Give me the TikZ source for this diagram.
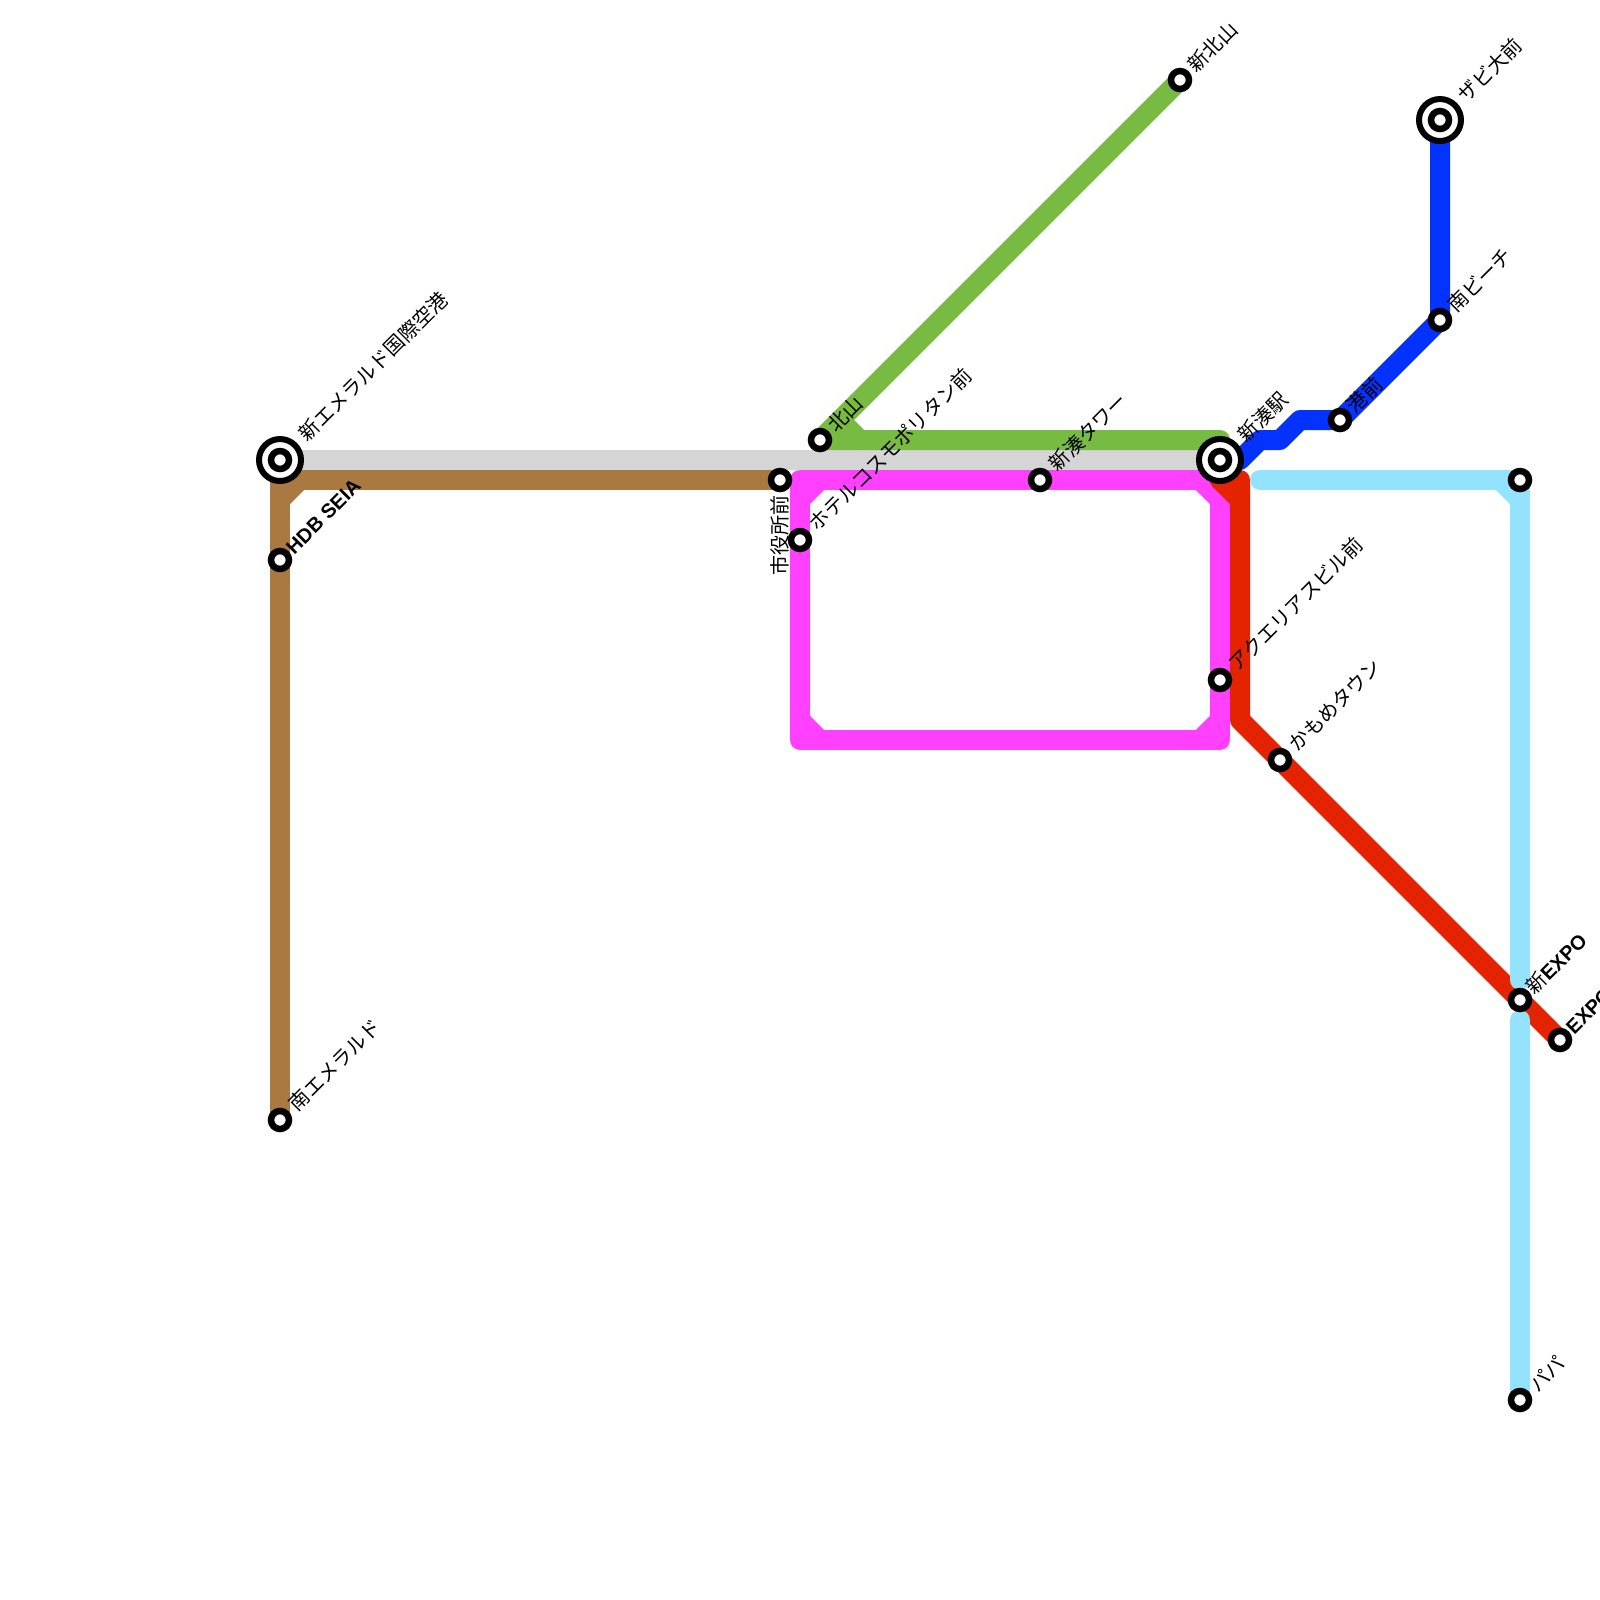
\documentclass[tikz,border=0pt]{standalone}
\usepackage{fontspec}
\usetikzlibrary{backgrounds}
\setmainfont{Noto Sans CJK JP}
\newfontfamily\latinbold[BoldFont=Liberation Sans Bold]{Liberation Sans}

\definecolor{airportgray}{HTML}{D5D5D5}
\definecolor{emeraldbrown}{HTML}{AA7942}
\definecolor{northgreen}{HTML}{78BB42}
\definecolor{loopmagenta}{HTML}{FF40FF}
\definecolor{expored}{HTML}{E42300}
\definecolor{beachblue}{HTML}{0433FF}
\definecolor{papasky}{HTML}{93E3FF}

\tikzset{
  metro/.style={line width=2mm,line join=round,line cap=round},
  stn/.style={circle,draw=black,fill=white,line width=0.065cm,minimum size=0.18cm,inner sep=0pt,outer sep=0pt},
  hub/.style={circle,draw=black,fill=white,line width=0.06cm,minimum size=0.42cm,inner sep=0pt,outer sep=0pt,label={[stn]center:{}}},
  lbl/.style={rotate=45,anchor=west,inner sep=0pt,font=\fontsize{5.7}{6}\selectfont},
  lblup/.style={rotate=90,anchor=east,inner sep=0pt,font=\fontsize{5.7}{6}\selectfont},
  bold/.style={lbl,font=\fontsize{5.7}{6}\selectfont\latinbold\bfseries}
}

\begin{document}
\begin{tikzpicture}[x=0.2cm,y=-0.2cm]
\useasboundingbox (0,0) rectangle (80,80);

% Stations
\node[hub] (airport) at (14,23) {};
\node[stn] (seia) at (14,28) {};
\node[stn] (southem) at (14,56) {};
\node[stn] (cityhall) at (39,24) {};
\node[stn] (hotel) at (40,27) {};
\node[stn] (kitayama) at (41,22) {};
\node[stn] (newkita) at (59,4) {};
\node[stn] (tower) at (52,24) {};
\node[hub] (minato) at (61,23) {};
\node[stn] (aqua) at (61,34) {};
\node[stn] (kamome) at (64,38) {};
\node[stn] (port) at (67,21) {};
\node[stn] (beach) at (72,16) {};
\node[hub] (zabi) at (72,6) {};
\node[stn] (skytop) at (76,24) {};
\node[stn] (newexpo) at (76,50) {};
\node[stn] (expo) at (78,52) {};
\node[stn] (papa) at (76,70) {};

% Line ends that are no station
\coordinate (redstart) at (61,24);
\coordinate (skystart) at (63,24);
\coordinate (skyupper) at (76,49);
\coordinate (skylower) at (76,51);

\begin{scope}[on background layer]
% Gray and brown
\draw[metro,airportgray,line cap=butt] (airport.center) -- (minato.center);
\draw[metro,emeraldbrown] (southem.center) -- (seia.center) -- (14,24) -- (cityhall.center);
\draw[metro,emeraldbrown] (14,25) -- (15,24);

% Green
\draw[metro,northgreen] (newkita.center) -- (kitayama.center) -- (61,22) -- (minato.center);
\draw[metro,northgreen] (42,21) -- (43,22);

% Magenta loop
\draw[metro,loopmagenta] (40,24) -- (tower.center) -- (61,24) -- (aqua.center) -- (61,37) -- (40,37) -- (hotel.center) -- cycle;
\draw[metro,loopmagenta] (41,24) -- (40,25) (60,24) -- (61,25) (40,36) -- (41,37) (60,37) -- (61,36);

% Red
\draw[metro,expored] (redstart) -- (62,24) -- (62,36) -- (kamome.center) -- (newexpo.center) -- (expo.center);
\draw[metro,expored] (redstart) -- (62,25);

% Blue
\draw[metro,beachblue] (minato.center) -- (62,23) -- (63,22) -- (64,22) -- (65,21) -- (port.center) -- (beach.center) -- (zabi.center);

% Sky
\draw[metro,papasky] (skystart) -- (skytop.center) -- (skyupper);
\draw[metro,papasky] (75,24) -- (76,25);
\draw[metro,papasky] (skylower) -- (papa.center);
\end{scope}

% Labels
\node[lbl] (airportlbl) at ([shift={(1.1,-1.1)}]airport.center) {新エメラルド国際空港};
\node[bold] (seialbl) at ([shift={(0.45,-0.45)}]seia.center) {HDB SEIA};
\node[lbl] (southemlbl) at ([shift={(0.6,-0.6)}]southem.center) {南エメラルド};
\node[lblup] (cityhalllbl) at ([shift={(0,0.75)}]cityhall.center) {市役所前};
\node[lbl] (hotellbl) at ([shift={(0.6,-0.6)}]hotel.center) {ホテルコスモポリタン前};
\node[lbl] (kitayamalbl) at ([shift={(0.55,-0.55)}]kitayama.center) {北山};
\node[lbl] (newkitalbl) at ([shift={(0.55,-0.55)}]newkita.center) {新北山};
\node[lbl] (towerlbl) at ([shift={(0.6,-0.6)}]tower.center) {新湊タワー};
\node[lbl] (minatolbl) at ([shift={(1.05,-1.05)}]minato.center) {新湊駅};
\node[lbl] (aqualbl) at ([shift={(0.6,-0.6)}]aqua.center) {アクエリアスビル前};
\node[lbl] (kamomelbl) at ([shift={(0.6,-0.6)}]kamome.center) {かもめタウン};
\node[lbl] (portlbl) at ([shift={(0.5,-0.5)}]port.center) {港前};
\node[lbl] (beachlbl) at ([shift={(0.55,-0.55)}]beach.center) {南ビーチ};
\node[lbl] (zabilbl) at ([shift={(1.05,-1.05)}]zabi.center) {ザビ大前};
\node[lbl] (newexpolbl) at ([shift={(0.45,-0.45)}]newexpo.center) {新{\latinbold\bfseries EXPO}};
\node[bold] (expolbl) at ([shift={(0.45,-0.45)}]expo.center) {EXPO};
\node[lbl] (papalbl) at ([shift={(0.6,-0.6)}]papa.center) {パパ};

\end{tikzpicture}
\end{document}
